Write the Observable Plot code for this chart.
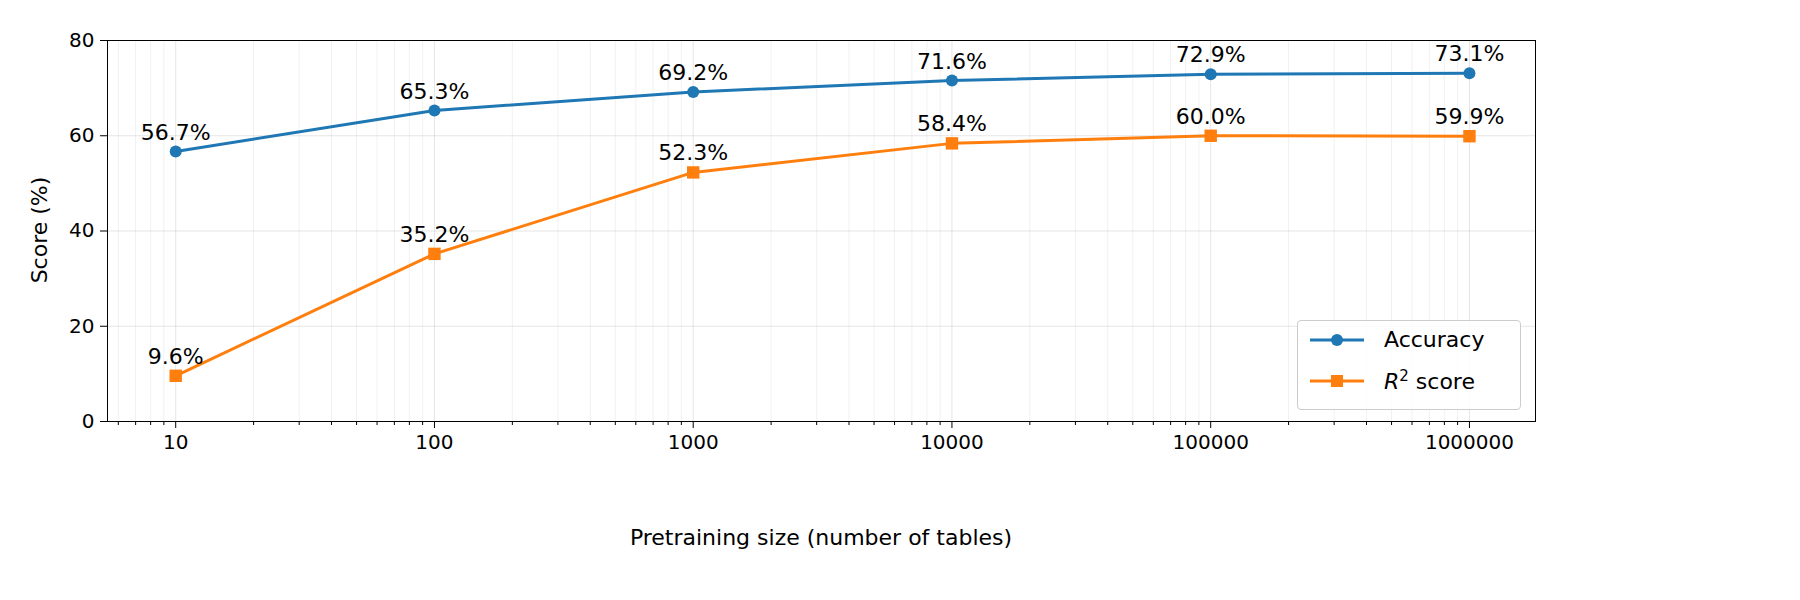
<!DOCTYPE html>
<html><head><meta charset="utf-8">
<script src="https://cdn.jsdelivr.net/npm/d3@7"></script>
<script src="https://cdn.jsdelivr.net/npm/@observablehq/plot@0.6"></script>
<style>
body{margin:0;background:#fff;font-family:"DejaVu Sans",sans-serif}
#wrap{position:relative;width:1800px;height:600px}
#legend{position:absolute;left:1297px;top:320px;width:222px;height:88px;border:1px solid #ccc;border-radius:4px;background:rgba(255,255,255,0.85);font-size:22px}
.row{position:absolute;left:10px;display:flex;align-items:center}
.row svg{margin-right:18px}
</style></head><body>
<div id="wrap"><div id="chart"></div>
<div id="legend">
<div class="row" style="top:6px"><svg width="58" height="20"><line x1="2" x2="56" y1="10" y2="10" stroke="#1f77b4" stroke-width="3"/><circle cx="29" cy="10" r="6" fill="#1f77b4"/></svg>Accuracy</div>
<div class="row" style="top:46px"><svg width="58" height="20"><line x1="2" x2="56" y1="10" y2="10" stroke="#ff7f0e" stroke-width="3"/><rect x="23" y="4" width="12" height="12" fill="#ff7f0e"/></svg><span><i>R</i><sup style="font-size:15px">2</sup> score</span></div>
</div></div>
<script>
const sizes=[10,100,1000,10000,100000,1000000];
const accuracy=[56.7,65.3,69.2,71.6,72.9,73.1];
const r2=[9.6,35.2,52.3,58.4,60.0,59.9];
const yTicks=[0,20,40,60,80];
const acc=sizes.map((s,i)=>({x:s,y:accuracy[i]}));
const rr=sizes.map((s,i)=>({x:s,y:r2[i]}));
const minor=d3.scaleLog().domain([5.45,1.8e6]).ticks().filter(t=>!sizes.includes(t));
const blue="#1f77b4",orange="#ff7f0e";
const fmt=d=>d.y.toFixed(1)+"%";
const plot=Plot.plot({
  width:1800,height:600,marginLeft:107,marginRight:265,marginTop:40,marginBottom:179,
  style:{fontFamily:"DejaVu Sans",fontSize:"20px",color:"#000",background:"#fff"},
  x:{type:"log",domain:[5.45,1.8e6],label:null},
  y:{type:"linear",domain:[0,80],label:null},
  marks:[
    Plot.ruleX(minor,{stroke:"#000",strokeOpacity:0.06}),
    Plot.ruleX(sizes,{stroke:"#000",strokeOpacity:0.1}),
    Plot.ruleY(yTicks,{stroke:"#000",strokeOpacity:0.1}),
    Plot.axisX({ticks:sizes,tickFormat:d=>String(d),tickSize:7,fontSize:20,label:null,tickPadding:6}),
    Plot.axisX({ticks:minor,tickFormat:()=>"",tickSize:4,label:null}),
    Plot.axisY({ticks:yTicks,tickSize:7,fontSize:20,label:null,tickPadding:6}),
    Plot.frame({stroke:"#000"}),
    Plot.line(acc,{x:"x",y:"y",stroke:blue,strokeWidth:3}),
    Plot.dot(acc,{x:"x",y:"y",fill:blue,r:6}),
    Plot.line(rr,{x:"x",y:"y",stroke:orange,strokeWidth:3}),
    Plot.dot(rr,{x:"x",y:"y",fill:orange,symbol:"square",r:7}),
    Plot.text(acc,{x:"x",y:"y",text:fmt,dy:-19,fontSize:22}),
    Plot.text(rr,{x:"x",y:"y",text:fmt,dy:-19,fontSize:22}),
  ]
});
document.getElementById("chart").appendChild(plot);
const svg=d3.select(plot);
svg.append("text").attr("x",821).attr("y",545).attr("text-anchor","middle").attr("font-size",22).attr("fill","#000").text("Pretraining size (number of tables)");
svg.append("text").attr("transform","translate(47,230) rotate(-90)").attr("text-anchor","middle").attr("font-size",22).attr("fill","#000").text("Score (%)");
</script></body></html>
